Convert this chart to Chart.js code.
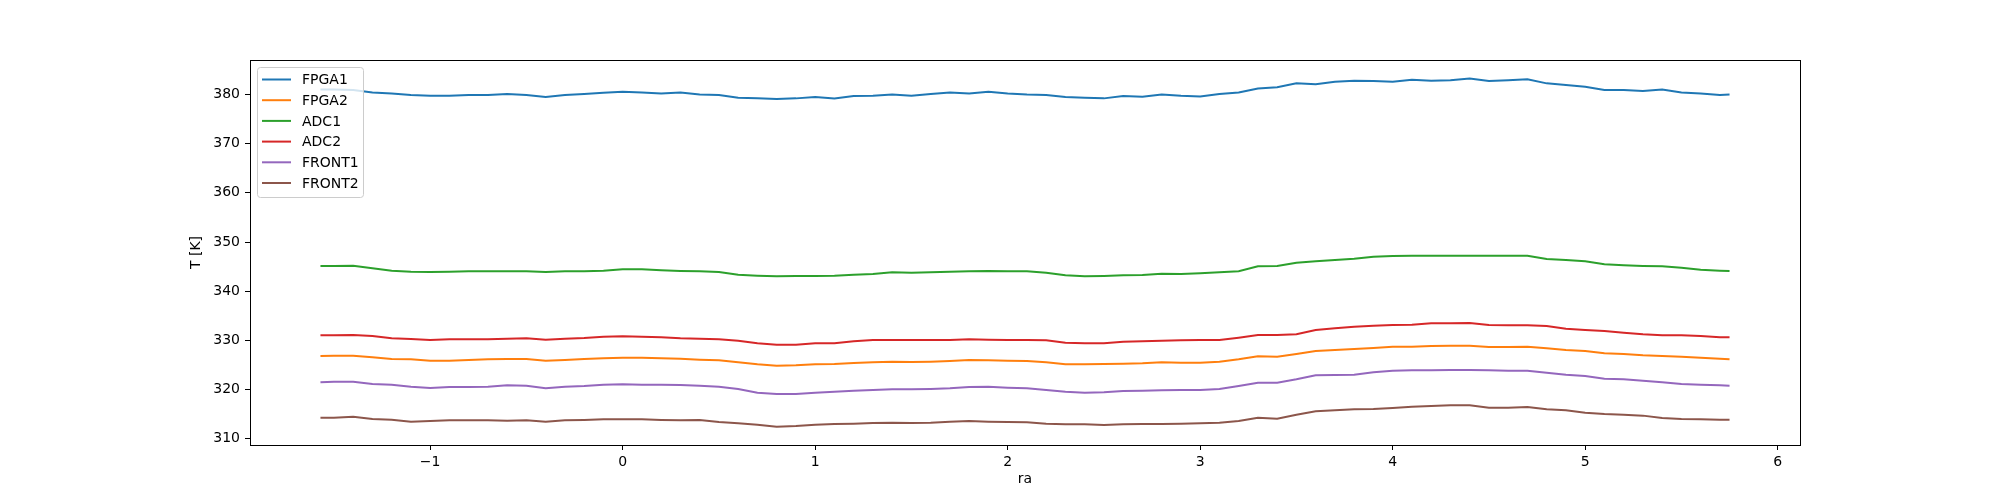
<!DOCTYPE html>
<html>
<head>
<meta charset="utf-8">
<script src="https://cdn.jsdelivr.net/npm/chart.js@4.4.1/dist/chart.umd.min.js"></script>
<style>
  body { margin: 0; background: #fff; }
  canvas { display: block; }
</style>
</head>
<body>
<canvas id="temps" width="2000" height="500"></canvas>
<script>
// x positions (ra) at which values were read
const ra = [-1.57, -1.5, -1.4, -1.3, -1.2, -1.1, -1.0, -0.9, -0.8, -0.7, -0.6, -0.5, -0.4, -0.3, -0.2, -0.1, 0.0,
  0.1, 0.2, 0.3, 0.4, 0.5, 0.6, 0.7, 0.8, 0.9, 1.0,
  1.1, 1.2, 1.3, 1.4, 1.5, 1.6, 1.7, 1.8, 1.9, 2.0, 2.1, 2.2, 2.3, 2.4, 2.5, 2.6, 2.7, 2.8, 2.9, 3.0,
  3.1, 3.2, 3.3, 3.4, 3.5, 3.6,
  3.7, 3.8, 3.9, 4.0, 4.1, 4.2, 4.3, 4.4, 4.5, 4.6, 4.7, 4.8, 4.9, 5.0, 5.1, 5.2, 5.3, 5.4, 5.5, 5.6, 5.7, 5.75];

const fpga1 = [381.0, 381.0, 380.9, 380.4, 380.2, 379.9, 379.75, 379.75, 379.9, 379.9, 380.1, 379.9, 379.5, 379.9, 380.1, 380.35, 380.55,
  380.4, 380.2, 380.4, 380.0, 379.9, 379.35, 379.2, 379.05, 379.2, 379.5,
  379.2, 379.7, 379.75, 380.0, 379.75, 380.1, 380.4, 380.2, 380.55, 380.2, 380.0, 379.9, 379.5, 379.35, 379.2, 379.7, 379.55, 380.0, 379.75, 379.6,
  380.1, 380.4, 381.2, 381.45, 382.25, 382.05,
  382.6, 382.8, 382.75, 382.6, 383.0, 382.8, 382.9, 383.25, 382.75, 382.9, 383.1, 382.25, 381.9, 381.55, 380.9, 380.9, 380.7, 381.0, 380.4, 380.2, 379.9, 380.0];

const fpga2 = [326.83, 326.9, 326.9, 326.56, 326.22, 326.15, 325.88, 325.88, 326.02, 326.15, 326.22, 326.22, 325.88, 326.02, 326.22, 326.36, 326.49,
  326.49, 326.36, 326.29, 326.09, 325.95, 325.55, 325.14, 324.87, 324.94, 325.14,
  325.21, 325.41, 325.55, 325.68, 325.61, 325.68, 325.82, 326.02, 325.95, 325.88, 325.82, 325.55, 325.14, 325.14, 325.21, 325.27, 325.34, 325.55, 325.48, 325.48,
  325.68, 326.15, 326.77, 326.7, 327.24, 327.85,
  328.05, 328.26, 328.46, 328.73, 328.73, 328.86, 328.93, 328.93, 328.66, 328.66, 328.73, 328.39, 328.05, 327.85, 327.37, 327.24, 326.97, 326.83, 326.7, 326.49, 326.29, 326.15];

const adc1 = [345.13, 345.13, 345.19, 344.65, 344.18, 343.97, 343.91, 343.97, 344.04, 344.04, 344.04, 344.04, 343.91, 344.04, 344.04, 344.18, 344.45,
  344.45, 344.24, 344.11, 344.04, 343.91, 343.36, 343.16, 343.03, 343.09, 343.09,
  343.16, 343.36, 343.5, 343.84, 343.77, 343.84, 343.97, 344.04, 344.11, 344.04, 344.04, 343.77, 343.23, 343.03, 343.09, 343.23, 343.3, 343.57, 343.5, 343.63,
  343.84, 344.04, 345.06, 345.13, 345.8, 346.07,
  346.34, 346.62, 347.02, 347.16, 347.23, 347.23, 347.23, 347.23, 347.23, 347.23, 347.23, 346.55, 346.34, 346.07, 345.46, 345.26, 345.13, 345.06, 344.79, 344.38, 344.18, 344.11];

const adc2 = [331.03, 331.03, 331.1, 330.9, 330.42, 330.29, 330.08, 330.22, 330.22, 330.22, 330.36, 330.42, 330.15, 330.36, 330.49, 330.76, 330.83,
  330.76, 330.63, 330.42, 330.36, 330.22, 329.95, 329.41, 329.14, 329.14, 329.41,
  329.41, 329.81, 330.08, 330.08, 330.08, 330.08, 330.08, 330.22, 330.15, 330.08, 330.08, 330.02, 329.54, 329.41, 329.41, 329.75, 329.81, 329.95, 330.02, 330.08,
  330.08, 330.56, 331.1, 331.1, 331.24, 332.12,
  332.46, 332.8, 333.0, 333.13, 333.2, 333.47, 333.47, 333.54, 333.13, 333.07, 333.07, 332.93, 332.39, 332.12, 331.91, 331.57, 331.24, 331.03, 331.03, 330.9, 330.63, 330.63];

const front1 = [321.48, 321.62, 321.62, 321.14, 321.01, 320.6, 320.33, 320.53, 320.53, 320.6, 320.87, 320.8, 320.26, 320.6, 320.74, 321.01, 321.07,
  321.01, 321.01, 320.94, 320.8, 320.6, 320.13, 319.38, 319.11, 319.11, 319.38,
  319.58, 319.79, 319.92, 320.06, 320.06, 320.13, 320.26, 320.53, 320.6, 320.4, 320.26, 319.92, 319.58, 319.38, 319.45, 319.72, 319.79, 319.85, 319.92, 319.92,
  320.13, 320.74, 321.41, 321.41, 322.09, 322.9,
  322.97, 323.04, 323.51, 323.85, 323.92, 323.92, 323.99, 323.99, 323.92, 323.85, 323.85, 323.45, 323.04, 322.77, 322.23, 322.09, 321.82, 321.48, 321.14, 321.01, 320.87, 320.8];

const front2 = [314.3, 314.3, 314.5, 314.03, 313.89, 313.49, 313.62, 313.76, 313.76, 313.76, 313.69, 313.76, 313.49, 313.76, 313.83, 313.96, 313.96,
  313.96, 313.83, 313.76, 313.83, 313.42, 313.15, 312.88, 312.47, 312.61, 312.88,
  313.01, 313.08, 313.21, 313.28, 313.21, 313.28, 313.49, 313.62, 313.49, 313.42, 313.35, 313.08, 312.94, 312.94, 312.81, 312.94, 313.01, 313.01, 313.08, 313.15,
  313.28, 313.62, 314.3, 314.1, 314.91, 315.59,
  315.79, 316.0, 316.06, 316.26, 316.53, 316.67, 316.81, 316.81, 316.33, 316.33, 316.47, 316.0, 315.79, 315.32, 315.05, 314.91, 314.71, 314.23, 314.03, 313.96, 313.89, 313.89];

const labels = ['FPGA1', 'FPGA2', 'ADC1', 'ADC2', 'FRONT1', 'FRONT2'];
const series = [fpga1, fpga2, adc1, adc2, front1, front2];
const colors = ['#1f77b4', '#ff7f0e', '#2ca02c', '#d62728', '#9467bd', '#8c564b'];

const FONT = '"DejaVu Sans", sans-serif';

// axes frame (all four spines, like matplotlib)
const frame = {
  id: 'frame',
  afterDraw(chart) {
    const {ctx, chartArea: a} = chart;
    ctx.save();
    ctx.strokeStyle = '#000';
    ctx.lineWidth = 1;
    ctx.strokeRect(Math.round(a.left) + 0.5, Math.round(a.top) + 0.5,
      Math.round(a.right - a.left), Math.round(a.bottom - a.top));
    ctx.restore();
  }
};

// legend in the upper left corner, inside the axes
const boxLegend = {
  id: 'boxLegend',
  afterDatasetsDraw(chart) {
    const {ctx, chartArea: a} = chart;
    const x = a.left + 7, y = a.top + 7, w = 106, h = 130;
    ctx.save();
    ctx.beginPath();
    ctx.roundRect(x + 0.5, y + 0.5, w, h, 3);
    ctx.fillStyle = 'rgba(255,255,255,0.8)';
    ctx.fill();
    ctx.strokeStyle = '#cccccc';
    ctx.lineWidth = 1;
    ctx.stroke();
    ctx.font = '14px ' + FONT;
    ctx.textBaseline = 'middle';
    chart.data.datasets.forEach((ds, i) => {
      const ry = y + 12.5 + i * 20.7;
      ctx.strokeStyle = ds.borderColor;
      ctx.lineWidth = 2;
      ctx.beginPath();
      ctx.moveTo(x + 5, ry);
      ctx.lineTo(x + 34, ry);
      ctx.stroke();
      ctx.fillStyle = '#000';
      ctx.fillText(ds.label, x + 45, ry + 1);
    });
    ctx.restore();
  }
};

new Chart(document.getElementById('temps'), {
  type: 'line',
  data: {
    datasets: labels.map((name, k) => ({
      label: name,
      data: ra.map((x, i) => ({x: x, y: series[k][i]})),
      borderColor: colors[k],
      backgroundColor: colors[k],
      borderWidth: 2,
      pointRadius: 0,
      tension: 0,
      fill: false
    }))
  },
  options: {
    responsive: false,
    animation: false,
    devicePixelRatio: 1,
    layout: { padding: { left: 180, right: 200, top: 60, bottom: 0 } },
    plugins: {
      legend: { display: false },
      tooltip: { enabled: false }
    },
    scales: {
      x: {
        type: 'linear',
        min: -1.936,
        max: 6.116,
        afterFit(scale) { scale.height = 55; },
        border: { display: false },
        grid: { drawOnChartArea: false, drawTicks: true, tickLength: 5, color: '#000', lineWidth: 1 },
        ticks: {
          stepSize: 1,
          includeBounds: false,
          padding: 4,
          maxRotation: 0,
          color: '#000',
          font: { family: FONT, size: 14 },
          callback: v => String(v).replace('-', '\u2212')
        },
        title: { display: true, text: 'ra', color: '#000', font: { family: FONT, size: 14 }, padding: { top: 0, bottom: 12 } }
      },
      y: {
        type: 'linear',
        min: 308.74,
        max: 387.0,
        afterFit(scale) { scale.width = 70; },
        border: { display: false },
        grid: { drawOnChartArea: false, drawTicks: true, tickLength: 5, color: '#000', lineWidth: 1 },
        ticks: {
          stepSize: 10,
          includeBounds: false,
          padding: 5,
          color: '#000',
          font: { family: FONT, size: 14 }
        },
        title: { display: true, text: 'T [K]', color: '#000', font: { family: FONT, size: 14 }, padding: { top: 8, bottom: 0 } }
      }
    }
  },
  plugins: [boxLegend, frame]
});
</script>
</body>
</html>
